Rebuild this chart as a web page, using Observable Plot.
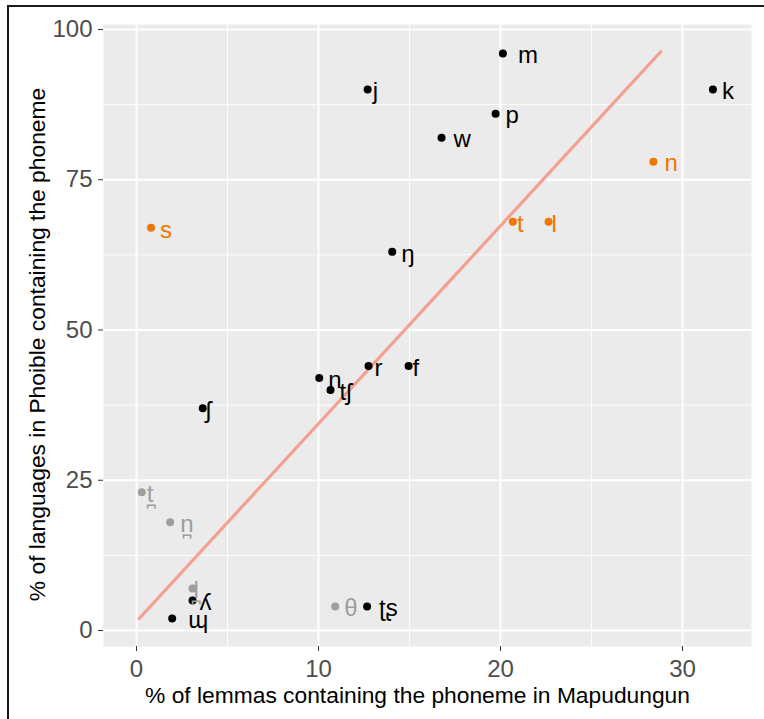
<!DOCTYPE html>
<html><head><meta charset="utf-8">
<script src="https://cdn.jsdelivr.net/npm/d3@7"></script>
<script src="https://cdn.jsdelivr.net/npm/@observablehq/plot@0.6"></script>
<style>
html,body{margin:0;padding:0;background:#fff}
body{width:764px;height:719px;overflow:hidden;position:relative;font-family:"Liberation Sans",Arial,sans-serif}
#chart{position:absolute;left:0;top:0}
#border{position:absolute;left:7px;top:5px;width:800px;height:800px;border-top:2px solid #1a1a1a;border-left:2px solid #1a1a1a;pointer-events:none}
</style></head>
<body><div id="chart"></div><div id="border"></div>
<script>
// ---- data ----
const phonemes   = ["m","j","k","p","w","n","s","t","l","ŋ","r","f","ɲ","tʃ","ʃ","t̪","n̪","l̪","ʎ","ɰ","θ","ʈʂ"];
const lemmaPct   = [20.13,12.7,31.67,19.73,16.76,28.4,0.8,20.68,22.64,14.05,12.75,14.95,10.04,10.66,3.64,0.29,1.85,3.08,3.08,1.96,10.92,12.67];
const phoiblePct = [96,90,90,86,82,78,67,68,68,63,44,44,42,40,37,23,18,7,5,2,4,4];
const groups     = ["base","base","base","base","base","hi","hi","hi","hi","base","base","base","base","base","base","muted","muted","muted","base","base","muted","base"];
const xTicks = [0,10,20,30];
const xMinor = [5,15,25];
const yTicks = [0,25,50,75,100];
const yMinor = [12.5,37.5,62.5,87.5];
const fitX = [0.15, 28.8];
const fitY = [2.0, 96.3];
const xTitle = "% of lemmas containing the phoneme in Mapudungun";
const yTitle = "% of languages in Phoible containing the phoneme";

// label nudges (px, like ggrepel output)
const labelNudge = {"m":15,"j":5,"k":9,"p":10,"w":12,"n":11,"s":9,"t":4,"l":3,"ŋ":9,"r":6,"f":4,"ɲ":9,"tʃ":9,"ʃ":3,"t̪":5,"n̪":10,"l̪":1,"ʎ":7,"ɰ":16,"θ":9,"ʈʂ":12};

const rows = phonemes.map((p,i)=>({label:p, x:lemmaPct[i], y:phoiblePct[i], g:groups[i]}));
const fit = fitX.map((x,i)=>({x, y:fitY[i]}));
const colorDomain = ["base","hi","muted"];
const colorRange  = ["#000000","#EE7700","#9E9E9E"];
const colorOf = g => colorRange[colorDomain.indexOf(g)];
const FONT = "'Liberation Sans', Arial, 'DejaVu Sans', sans-serif";

const chart = Plot.plot({
  width: 764, height: 719,
  marginLeft: 103, marginRight: 13, marginTop: 24, marginBottom: 73,
  style: {fontFamily: FONT, background: "transparent", overflow: "visible"},
  x: {domain: [-1.813, 33.79]},
  y: {domain: [-2.66, 100.83]},
  marks: [
    Plot.frame({fill: "#EBEBEB", stroke: null}),
    Plot.ruleX(xMinor, {stroke: "#fff", strokeWidth: 0.9}),
    Plot.ruleY(yMinor, {stroke: "#fff", strokeWidth: 0.9}),
    Plot.ruleX(xTicks, {stroke: "#fff", strokeWidth: 1.9}),
    Plot.ruleY(yTicks, {stroke: "#fff", strokeWidth: 1.9}),
    Plot.axisX(xTicks, {tickSize: 5, tickPadding: 8, fontSize: 24, stroke: "#333", fill: "#4D4D4D", label: null}),
    Plot.axisY(yTicks, {tickSize: 5, tickPadding: 6, fontSize: 24, stroke: "#333", fill: "#4D4D4D", label: null}),
    Plot.line(fit, {x: "x", y: "y", stroke: "#F3A08F", strokeWidth: 3.2}),
    Plot.dot(rows, {x: "x", y: "y", r: 4, fill: d => colorOf(d.g), stroke: null}),
    ...rows.map(d => Plot.text([d], {x: "x", y: "y", text: "label", fill: colorOf(d.g), fontSize: 24,
        textAnchor: "start", dx: labelNudge[d.label] ?? 8, dy: 2})),
    Plot.text([xTitle], {frameAnchor: "bottom", textAnchor: "middle", lineAnchor: "middle", dy: 49, dx: -10, fontSize: 22.8, fill: "#000"}),
    Plot.text([yTitle], {frameAnchor: "left", textAnchor: "middle", lineAnchor: "middle", rotate: -90, dx: -66, dy: 9, fontSize: 22.8, fill: "#000"})
  ]
});
document.getElementById("chart").appendChild(chart);
</script>
</body></html>
